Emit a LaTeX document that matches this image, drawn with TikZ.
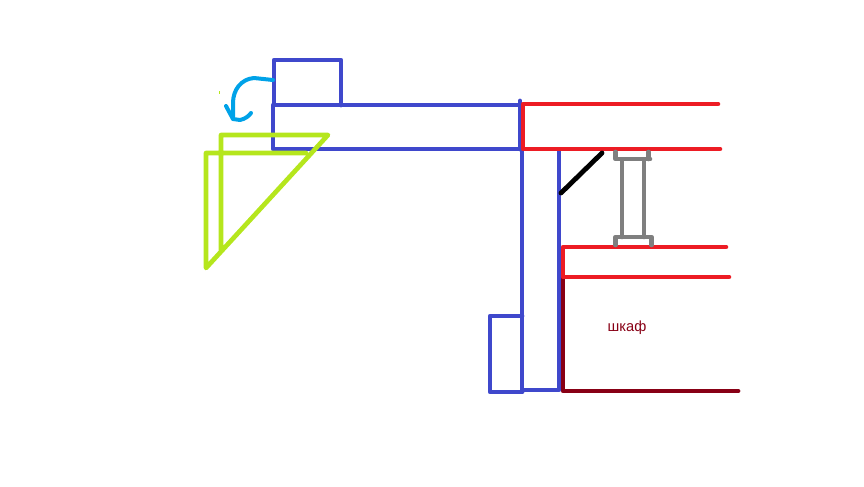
\documentclass[tikz,border=0pt]{standalone}
\usepackage{fontspec}
\setmainfont{Liberation Sans}
\definecolor{paintblue}{HTML}{3F48CC}
\definecolor{paintred}{HTML}{ED1C24}
\definecolor{paintlime}{HTML}{B5E61D}
\definecolor{paintcyan}{HTML}{00A2E8}
\definecolor{paintgrey}{HTML}{7F7F7F}
\definecolor{paintdark}{HTML}{880015}

\begin{document}
\begin{tikzpicture}[
     x = 0.75pt, % one unit is one pixel of the sketch
     y = -0.75pt,
     line join = round,
     line cap = round
 ]

 \tikzstyle{wall}=[draw = paintblue, line width = 3.6pt]
 \tikzstyle{shelf}=[draw = paintred, line width = 3.4pt]
 \tikzstyle{bracket}=[draw = paintlime, line width = 3.5pt]
 \tikzstyle{post}=[draw = paintgrey, line width = 3.5pt]
 \tikzstyle{cabinet}=[draw = paintdark, line width = 3.6pt]
 \tikzstyle{swing}=[draw = paintcyan, line width = 3pt]

 \useasboundingbox (0,0) rectangle (864,486);

 % cabinet under the lower shelf
 \draw[cabinet] (563,277) -- (563,391) -- (738,391);
 \node[text = paintdark, font = \fontsize{11pt}{13pt}\selectfont] (label) at (627,328) {шкаф};

 % blue frame
 \draw[wall] (273,105) rectangle (520,149);
 \draw[wall] (274,105) -- (274,60) -- (341,60) -- (341,105);
 \draw[wall] (520,101) -- (520,149);
 \draw[wall] (522,150) -- (522,390) -- (559,390) -- (559,151);
 \draw[wall] (522,316) -- (490,316) -- (490,392) -- (522,392);

 % red shelves
 \draw[shelf] (718,104) -- (523,104) -- (523,149) -- (720,149);
 \draw[shelf] (726,247) -- (563,247) -- (563,277) -- (729,277);

 % grey column
 \draw[post] (622,160) -- (622,237);
 \draw[post] (644,160) -- (644,237);
 \draw[post] (615.5,152) -- (615.5,159) -- (650,159);
 \draw[post] (648.5,152) -- (648.5,159);
 \draw[post] (615.5,245) -- (615.5,237) -- (651.5,237) -- (651.5,245);

 % black strut
 \draw[line width = 3.6pt] (561,193) -- (602,153);

 % lime brackets
 \draw[bracket] (221,250) -- (221,135) -- (328,135) -- (206,268) -- (206,153) -- (306,153);
 \draw[draw = paintlime, line width = 0.8pt, line cap = butt] (219.5,91) -- (219.5,94);

 % swing arrow
 \draw[swing] (273,80) -- (254,78) .. controls (241,79) and (233,90) .. (233,103) -- (233,119);
 \draw[swing] (226,106) -- (233,119) -- (240,120) .. controls (245,119) and (249,116) .. (251,113);
\end{tikzpicture}
\end{document}
